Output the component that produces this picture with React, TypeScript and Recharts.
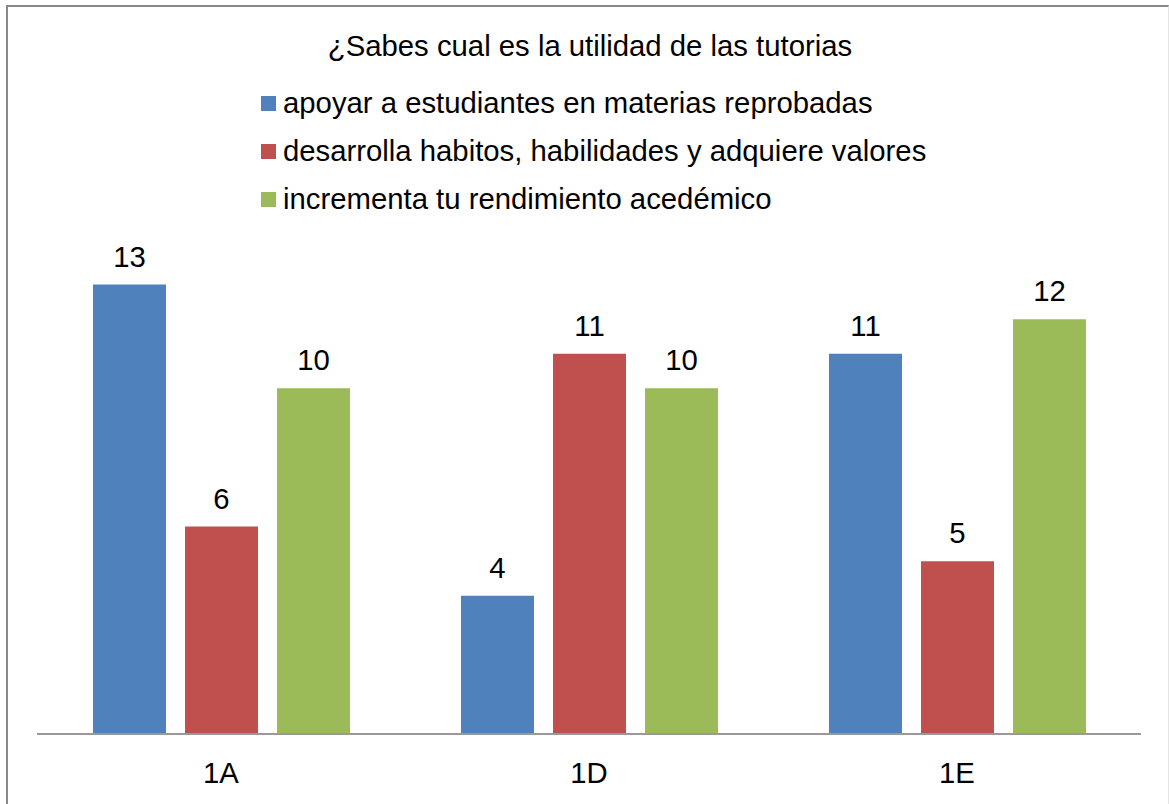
import { BarChart, Bar, XAxis, YAxis, Legend, LabelList } from "recharts"

const grupos = ["1A", "1D", "1E"]
const apoyar = [13, 4, 11]
const desarrolla = [6, 11, 5]
const incrementa = [10, 10, 12]

const titulo = "¿Sabes cual es la utilidad de las tutorias"
const series = [
  { key: "apoyar", name: "apoyar a estudiantes en materias reprobadas", color: "#4F81BD" },
  { key: "desarrolla", name: "desarrolla habitos, habilidades y adquiere valores", color: "#C0504D" },
  { key: "incrementa", name: "incrementa tu rendimiento acedémico", color: "#9BBB59" },
]

const FONT = "'Liberation Sans', Arial, sans-serif"
const FS = 29.3

function LegendBox() {
  return (
    <div style={{ position: "absolute", left: 261, top: 79, fontFamily: FONT, fontSize: FS, color: "#000" }}>
      {series.map((s) => (
        <div key={s.key} style={{ position: "relative", height: 48, lineHeight: "48px", whiteSpace: "nowrap" }}>
          <span style={{ position: "absolute", left: 0, top: 17, width: 15, height: 15, background: s.color }} />
          <span style={{ position: "absolute", left: 22, top: 0 }}>{s.name}</span>
        </div>
      ))}
    </div>
  )
}

export default function App() {
  const data = grupos.map((g, i) => ({
    name: g,
    apoyar: apoyar[i],
    desarrolla: desarrolla[i],
    incrementa: incrementa[i],
  }))

  return (
    <div style={{ position: "absolute", left: 0, top: 0, width: 1169, height: 804, overflow: "hidden", background: "#fff" }}>
      <div
        style={{
          position: "absolute",
          left: 6,
          top: 5,
          width: 1160,
          height: 810,
          borderLeft: "2px solid #888",
          borderTop: "2px solid #888",
          borderRight: "1px solid #e4e4e4",
        }}
      />
      <div
        style={{
          position: "absolute",
          left: 590,
          top: 22,
          transform: "translateX(-50%)",
          fontFamily: FONT,
          fontSize: FS,
          lineHeight: "48px",
          whiteSpace: "nowrap",
        }}
      >
        {titulo}
      </div>
      <BarChart
        width={1169}
        height={804}
        data={data}
        margin={{ top: 250, right: 28, bottom: 30, left: 37 }}
        barSize={73}
        barGap={19}
        style={{ position: "absolute", left: 0, top: 0 }}
      >
        <XAxis
          dataKey="name"
          height={40}
          tickLine={false}
          tickSize={0}
          tickMargin={28}
          axisLine={{ stroke: "#999", strokeWidth: 2 }}
          tick={{ fill: "#000", fontSize: FS, fontFamily: FONT }}
        />
        <YAxis hide domain={[0, 14]} />
        <Legend content={() => <LegendBox />} wrapperStyle={{ position: "absolute", left: 0, top: 0 }} />
        {series.map((s) => (
          <Bar key={s.key} dataKey={s.key} name={s.name} fill={s.color} isAnimationActive={false}>
            <LabelList dataKey={s.key} position="top" offset={18} fill="#000" fontSize={FS} fontFamily={FONT} />
          </Bar>
        ))}
      </BarChart>
    </div>
  )
}
